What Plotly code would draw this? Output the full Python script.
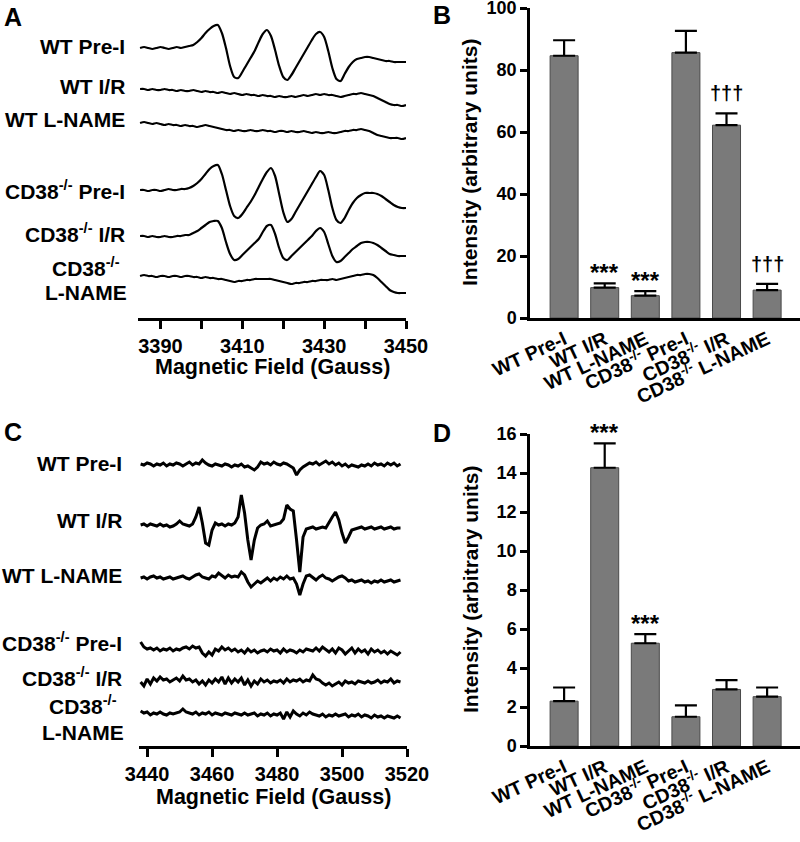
import numpy as np
import plotly.graph_objects as go

W, H = 800, 842
FONT = "Liberation Sans, Arial, sans-serif"

# ---- bar data (panels B and D) ----
GROUPS = ["WT Pre-I", "WT I/R", "WT L-NAME",
          "CD38<sup>-/-</sup> Pre-I", "CD38<sup>-/-</sup> I/R", "CD38<sup>-/-</sup> L-NAME"]
NO_MEAN = [84.6, 9.8, 7.2, 85.6, 62.2, 9.0]
NO_SEM = [5.0, 1.4, 1.5, 7.0, 3.8, 2.0]
NO_MARKS = ["", "***", "***", "", "†††", "†††"]
SO_MEAN = [2.3, 14.27, 5.27, 1.5, 2.9, 2.53]
SO_SEM = [0.7, 1.25, 0.47, 0.58, 0.48, 0.47]
SO_MARKS = ["", "***", "***", "", "", ""]

# ---- EPR spectra, panel A (NO-Fe-DETC), 1 G steps ----
FIELD_A = np.arange(3385, 3451)
A_WT_PRE = [0, 1, 0, -1, 0, 1, 0, -1, 0, 1,
            0, 1, 2, 3, 6, 10, 15, 19, 22, 23,
            15, 0, -18, -29, -30, -24, -17, -10, -3, 6,
            14, 18, 12, -2, -18, -29, -32, -27, -20, -13,
            -6, 1, 8, 14, 16, 11, -3, -20, -31, -33,
            -26, -19, -14, -11, -10, -9, -9, -10, -11, -12,
            -13, -13, -14, -14, -14, -14]
A_WT_IR = [0, 0, -1, 0, -1, -1, 0, -1, -1, -2,
           -1, -2, -2, -1, -2, -3, -2, -3, -3, -4,
           -3, -4, -5, -4, -5, -6, -5, -6, -6, -7,
           -6, -7, -7, -8, -7, -8, -8, -7, -8, -7,
           -6, -7, -6, -5, -6, -5, -6, -6, -7, -8,
           -7, -6, -5, -5, -4, -5, -6, -7, -9, -11,
           -13, -15, -16, -16, -17, -16]
A_WT_LN = [0, 1, 0, -1, 0, -1, -2, -1, -2, -2,
           -3, -2, -3, -3, -4, -3, -2, -3, -4, -5,
           -6, -7, -7, -8, -7, -8, -8, -7, -8, -8,
           -7, -8, -8, -9, -8, -8, -9, -8, -9, -9,
           -8, -9, -10, -9, -10, -10, -9, -10, -10, -9,
           -8, -8, -7, -7, -6, -7, -8, -10, -12, -13,
           -14, -15, -15, -15, -16, -15]
A_KO_PRE = [0, 0, -1, 0, 0, -1, 0, 1, 0, 0,
            1, 1, 2, 4, 7, 11, 16, 21, 24, 25,
            16, 0, -16, -26, -28, -24, -18, -12, -5, 3,
            11, 18, 22, 14, -4, -22, -32, -29, -22, -15,
            -8, -1, 6, 13, 19, 15, 0, -18, -30, -33,
            -28, -20, -13, -8, -5, -3, -3, -3, -4, -6,
            -9, -12, -15, -17, -18, -18]
A_KO_IR = [0, 0, -1, 0, -1, -1, 0, -1, -1, 0,
           0, 1, 1, 3, 5, 8, 11, 14, 15, 15,
           8, -6, -18, -24, -23, -19, -15, -11, -7, -3,
           4, 10, 11, 2, -12, -22, -24, -20, -16, -12,
           -8, -4, 0, 5, 8, 4, -8, -20, -26, -25,
           -21, -17, -13, -10, -7, -6, -6, -7, -9, -12,
           -15, -18, -19, -20, -20, -20]
A_KO_LN = [0, 1, 0, 0, -1, 0, 0, -1, 0, 0,
           -1, 0, 0, -1, -1, -2, -1, -2, -2, -3,
           -3, -4, -5, -6, -5, -5, -4, -4, -3, -3,
           -3, -3, -3, -4, -5, -6, -7, -8, -7, -7,
           -6, -6, -5, -5, -4, -4, -4, -3, -4, -3,
           -2, -1, 0, 1, 1, 2, 2, 1, -2, -6,
           -10, -14, -16, -17, -17, -17]

# ---- EPR spectra, panel C (superoxide), 1 G steps ----
FIELD_C = np.arange(3438, 3519)
C_WT_PRE = [1, 0, 2, 1, -1, 1, 0, 2, -1, 1,
            0, 2, 1, -1, 1, 3, 0, 2, 1, 5,
            2, 0, -1, 1, 0, -1, 1, 0, -2, 0,
            -1, 1, -2, -1, -3, -5, -2, 3, 1, 2,
            0, 3, 1, 0, 2, 1, -1, -3, -10, -5,
            -2, 0, 2, 1, 3, 0, 2, 4, 1, 3,
            0, 2, -1, 1, -2, 0, -1, -2, 0, -1,
            1, -1, 2, 0, 1, -1, 2, 0, 2, -1, 1]
C_WT_IR = [0, 1, -1, 1, 0, -1, 1, -1, 0, -2,
           -1, 1, 4, 1, 0, -1, 1, 8, 18, 2,
           -18, -20, -5, 2, 0, 1, -1, 1, 0, 2,
           8, 30, 12, -15, -35, -15, -3, 0, 1, 4,
           -1, 0, 1, 2, 6, 20, 16, 14, -15, -47,
           -12, -4, -3, -2, -4, -3, -2, -3, 3, 8,
           13, 5, -8, -18, -12, -5, -4, -3, -2, -4,
           -3, -2, -4, -3, -2, -4, -3, -2, -4, -3, -3]
C_WT_LN = [0, 1, -1, 1, 2, 0, 1, -1, 0, 1,
           -1, 0, 1, 2, 0, -1, 1, 3, 4, 1,
           0, -1, 2, 1, 5, 2, 0, 3, 1, 2,
           1, 6, 3, -4, -9, -6, -3, -5, -2, 0,
           -3, 0, -2, 1, -1, 2, -1, 0, -6, -17,
           -6, 2, 3, 0, -2, 1, 3, 0, -1, -3,
           -1, 1, 2, 0, -3, -2, -4, -3, -2, -4,
           -3, -5, -3, -4, -2, -4, -3, -2, -4, -3, -2]
C_KO_PRE = [8, 3, 1, 2, 0, 2, -1, 1, 0, 2,
            -1, 1, 0, 2, 3, 1, 4, 2, 3, -3,
            -6, -2, -5, 1, -1, 3, 0, 2, -1, 1,
            -2, 0, -3, 1, -2, 0, -3, -1, 0, -2,
            1, -1, 0, -3, 1, -2, 0, -1, -3, 0,
            -2, 1, 0, -1, 2, -1, 3, 0, -2, 1,
            -3, 2, 0, -4, -1, 2, -3, 1, -2, 0,
            -4, 1, -2, 0, -3, -1, -4, -1, -3, -5, -2]
C_KO_IR = [0, -4, 3, -2, 4, 1, 5, 2, 3, 0,
           2, 4, 1, 6, 2, 3, 0, 2, -2, 1,
           -3, 2, -1, 3, 0, 5, -2, 4, -1, 3,
           0, 4, -3, 2, -4, 1, -2, 3, 0, 2,
           -1, 1, 0, 2, -1, 3, 0, 2, 1, 3,
           0, 2, 1, 7, 3, 2, -1, -3, -1, -4,
           -2, 0, -3, 1, -1, 0, -2, 1, 0, -1,
           1, -1, 0, 2, -1, 1, 0, 3, -1, 1, 0]
C_KO_LN = [3, 1, 2, -1, 1, 0, 2, 0, -1, 1,
           0, 1, 2, 5, 2, 1, 0, 2, -1, 1,
           0, 2, -1, 1, 0, -1, 1, 0, -1, 1,
           0, -1, 1, -1, 0, 1, -2, 0, -1, 1,
           -2, 0, -1, 1, -5, 2, -3, 3, 0, -2,
           1, -1, 2, 0, -1, -2, 0, -3, -1, -2,
           0, -2, -1, 0, -3, -1, -2, 0, -3, -1,
           -2, -4, -1, -3, -2, -4, -2, -3, -4, -2, -4]

SPECTRA_A = [A_WT_PRE, A_WT_IR, A_WT_LN, A_KO_PRE, A_KO_IR, A_KO_LN]
SPECTRA_C = [C_WT_PRE, C_WT_IR, C_WT_LN, C_KO_PRE, C_KO_IR, C_KO_LN]
# vertical stacking of the traces (pixel rows of each baseline)
STACK_A = [48, 89, 123, 190, 236, 276]
STACK_C = [465, 525, 578, 650, 682, 714]


def fx(x):
    return x / W


def fy(y):
    return 1 - y / H


def bold(size):
    return dict(family=FONT, size=size, color="black", weight="bold")


def rows(y_top, y_bottom):
    # y axis whose units are pixels (upwards), for the stacked spectra
    return dict(domain=[fy(y_bottom), fy(y_top)], range=[-y_bottom, -y_top], visible=False,
                fixedrange=True, automargin=False)


fig = go.Figure()

for vals, base in zip(SPECTRA_A, STACK_A):
    fig.add_trace(go.Scatter(x=FIELD_A, y=[v - base for v in vals], mode="lines",
                             line=dict(color="black", width=2.2, shape="spline", smoothing=0.7),
                             xaxis="x", yaxis="y", hoverinfo="skip"))

for vals, base in zip(SPECTRA_C, STACK_C):
    fig.add_trace(go.Scatter(x=FIELD_C, y=[v - base for v in vals], mode="lines",
                             line=dict(color="black", width=3),
                             xaxis="x3", yaxis="y3", hoverinfo="skip"))

bar_style = dict(marker=dict(color="#7a7a7a", line=dict(color="#4a4a4a", width=1)), width=0.69)
fig.add_trace(go.Bar(x=GROUPS, y=NO_MEAN, xaxis="x2", yaxis="y2",
                     error_y=dict(type="data", array=NO_SEM, arrayminus=[0] * 6, symmetric=False,
                                  color="black", thickness=2.2, width=11), **bar_style))
fig.add_trace(go.Bar(x=GROUPS, y=SO_MEAN, xaxis="x4", yaxis="y4",
                     error_y=dict(type="data", array=SO_SEM, arrayminus=[0] * 6, symmetric=False,
                                  color="black", thickness=2.2, width=11), **bar_style))

axis_line = dict(showline=True, linecolor="black", linewidth=2.5, showgrid=False,
                 zeroline=False, fixedrange=True, automargin=False, ticklabeloverflow="allow")
field_ticks = dict(ticks="outside", ticklen=8, tickwidth=2.5, tickcolor="black", tickfont=bold(20))
count_ticks = dict(ticks="outside", ticklen=7, tickwidth=2.5, tickcolor="black", tickfont=bold(18))
group_ticks = dict(type="category", range=[-0.84, 5.81], ticks="", tickangle=-25,
                   tickfont=bold(19.5))

fig.update_layout(
    template="none",
    width=W, height=H,
    margin=dict(l=0, r=0, t=0, b=0, autoexpand=False),
    paper_bgcolor="white", plot_bgcolor="white",
    showlegend=False,
    xaxis=dict(domain=[fx(138), fx(406)], range=[3384.5, 3450], anchor="y",
               tick0=3390, dtick=20,
               minor=dict(tick0=3390, dtick=10, ticks="outside", ticklen=8, tickwidth=2.5,
                          tickcolor="black"),
               **axis_line, **field_ticks),
    yaxis=dict(anchor="x", **rows(5, 318)),
    xaxis3=dict(domain=[fx(139), fx(407)], range=[3437.5, 3520], anchor="y3",
                tick0=3440, dtick=20, **axis_line, **field_ticks),
    yaxis3=dict(anchor="x3", **rows(440, 746)),
    xaxis2=dict(domain=[fx(530), 1], anchor="y2", **group_ticks, **axis_line),
    yaxis2=dict(domain=[fy(318), fy(8)], range=[0, 100], dtick=20, anchor="x2",
                **count_ticks, **axis_line),
    xaxis4=dict(domain=[fx(530), 1], anchor="y4", **group_ticks, **axis_line),
    yaxis4=dict(domain=[fy(746), fy(434)], range=[0, 16], dtick=2, anchor="x4",
                **count_ticks, **axis_line),
)

ann = []


def label(text, x, y, size=21, anchor="right"):
    ann.append(dict(text=text, x=fx(x), y=fy(y), xref="paper", yref="paper",
                    xanchor=anchor, yanchor="middle", showarrow=False, font=bold(size)))


# panel letters
label("A", 2, 17, 25, "left")
label("B", 431, 15, 25, "left")
label("C", 2, 432, 25, "left")
label("D", 431, 433, 25, "left")

# trace labels
names_a = ["WT Pre-I", "WT I/R", "WT L-NAME", "CD38<sup>-/-</sup> Pre-I", "CD38<sup>-/-</sup> I/R"]
for name, y in zip(names_a, [47, 86, 119, 190, 233]):
    label(name, 127, y)
label("CD38<sup>-/-</sup>", 86, 267, anchor="center")
label("L-NAME", 86, 293, anchor="center")

for name, y in zip(names_a, [463, 520, 575, 642, 677]):
    label(name, 124, y)
label("CD38<sup>-/-</sup>", 83, 705, anchor="center")
label("L-NAME", 83, 732, anchor="center")

# axis titles
label("Magnetic Field (Gauss)", 272, 367, 21.5, "center")
label("Magnetic Field (Gauss)", 273, 797, 21.5, "center")
for yc in [163, 590]:
    ann.append(dict(text="Intensity (arbitrary units)", x=fx(470), y=fy(yc), xref="paper",
                    yref="paper", textangle=-90, xanchor="center", yanchor="middle",
                    showarrow=False, font=bold(21)))

# significance marks
for marks, mean, sem, xa, ya in [(NO_MARKS, NO_MEAN, NO_SEM, "x2", "y2"),
                                  (SO_MARKS, SO_MEAN, SO_SEM, "x4", "y4")]:
    for g, m, v, s in zip(GROUPS, marks, mean, sem):
        if not m:
            continue
        dag = m.startswith("†")
        ann.append(dict(text=m, x=g, y=v + s, xref=xa, yref=ya, xanchor="center",
                        yanchor="middle", yshift=20 if dag else 11, showarrow=False,
                        font=bold(20 if dag else 24)))

fig.update_layout(annotations=ann)
# the page's default 8px body margin would push the 800x842 figure off the window
fig.write_html("out.html", config={"displayModeBar": False},
               post_script="document.body.style.margin = '0';")
